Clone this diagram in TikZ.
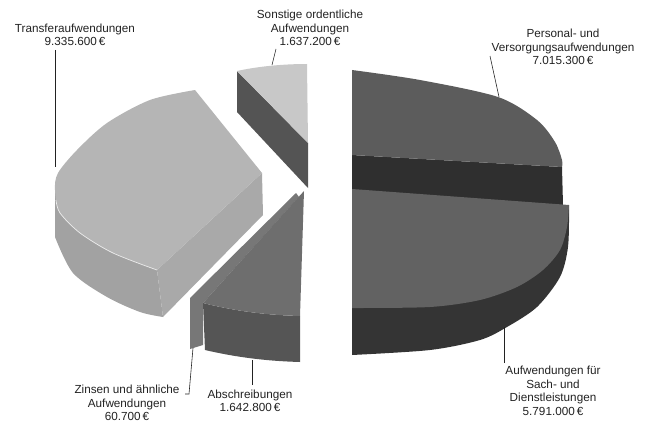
\documentclass[tikz,border=0pt]{standalone}
\usepackage{fontspec}
\setmainfont{Liberation Sans}
\definecolor{transTop}{HTML}{B5B5B5}
\definecolor{transSide}{HTML}{A2A2A2}
\definecolor{transCut}{HTML}{A9A9A9}
\definecolor{sonTop}{HTML}{C8C8C8}
\definecolor{sonCut}{HTML}{545454}
\definecolor{persTop}{HTML}{5C5C5C}
\definecolor{persCut}{HTML}{2F2F2F}
\definecolor{sachTop}{HTML}{626262}
\definecolor{sachSide}{HTML}{343434}
\definecolor{abTop}{HTML}{6E6E6E}
\definecolor{abSide}{HTML}{555555}
\definecolor{zinsCol}{HTML}{777777}
\definecolor{inkGray}{HTML}{222222}
\begin{document}
\begin{tikzpicture}[x=0.03cm,y=-0.03cm,
  lbl/.style={align=center,inner sep=0pt,text=inkGray,font=\fontsize{10}{11.6}\selectfont},
  leader/.style={draw=inkGray,line width=0.5pt}]
\useasboundingbox (0,0) rectangle (647,424);
\fill[sonCut] (237,71) -- (308,143) -- (308,188) -- (237,112) -- cycle;
\fill[sonTop] (237,71) .. controls (260,66) and (285,64) .. (307,64) -- (308,143) -- cycle;
\fill[transSide] (55,185) -- plot[smooth] coordinates {(55,237) (73,273) (107,297) (140,312) (163,317)} -- (157,270) -- cycle;
\fill[transCut] (262,173) -- (157,270) -- (163,317) -- (263,215) -- cycle;
\fill[transTop] plot[smooth] coordinates {(195,90) (150,100) (107,123) (77,150) (58,173) (55,190) (60,213) (80,233) (113,253) (157,270)} -- (262,173) -- cycle;
\draw[white!85!gray,line width=0.6pt] plot[smooth] coordinates {(56,200) (60,213) (80,233) (113,253) (157,270)};
\fill[persCut] (352,155) -- (562,167) -- (563,205) -- (352,190) -- cycle;
\fill[persTop] plot[smooth] coordinates {(352,70) (420,80) (498,97) (537,120) (555,142) (562,160) (562,167)} -- (352,155) -- cycle;
\fill[sachSide] (352,300) -- plot[smooth] coordinates {(352,355) (430,350) (480,340) (507,327) (537,307) (560,277) (568,247) (569,210)} -- (569,205) -- cycle;
\fill[sachTop] (352,189) -- plot[smooth] coordinates {(569,205) (567,227) (560,250) (543,270) (517,287) (480,300) (430,307) (352,308)} -- cycle;
\fill[zinsCol] (190,298) -- (296,193) -- (299,197) -- (203,303) -- (203,345) -- (190,349) -- cycle;
\fill[abSide] (203,303) .. controls (235,311) and (265,315) .. (300,316) -- (300,362) .. controls (265,361) and (235,357) .. (205,350) -- cycle;
\fill[abTop] (304,191) -- (300,316) .. controls (265,315) and (235,311) .. (203,303) -- cycle;
\node[lbl] (transfer) at (75,35) {Transferaufwendungen\\9.335.600\,€};
\node[lbl] (sonstige) at (310,28) {Sonstige ordentliche\\Aufwendungen\\1.637.200\,€};
\node[lbl] (personal) at (563,47) {Personal- und\\Versorgungsaufwendungen\\7.015.300\,€};
\node[lbl] (sach) at (553,391) {Aufwendungen für\\Sach- und\\Dienstleistungen\\5.791.000\,€};
\node[lbl] (abschr) at (250,401) {Abschreibungen\\1.642.800\,€};
\node[lbl] (zinsen) at (127,403) {Zinsen und ähnliche\\Aufwendungen\\60.700\,€};
\coordinate (transferA) at (55,50);
\coordinate (transferB) at (55,167);
\coordinate (sonstigeA) at (276,49);
\coordinate (sonstigeB) at (272,65);
\coordinate (personalA) at (490,56);
\coordinate (personalB) at (499,97);
\coordinate (sachA) at (504,363);
\coordinate (sachB) at (504,327);
\coordinate (abschrA) at (252,385);
\coordinate (abschrB) at (252,360);
\coordinate (zinsenA) at (185,394);
\coordinate (zinsenK) at (189,394);
\coordinate (zinsenB) at (193,348);
\draw[leader] (transferA) -- (transferB);
\draw[leader] (sonstigeA) -- (sonstigeB);
\draw[leader] (personalA) -- (personalB);
\draw[leader] (sachA) -- (sachB);
\draw[leader] (abschrA) -- (abschrB);
\draw[leader] (zinsenA) -- (zinsenK) -- (zinsenB);
\end{tikzpicture}
\end{document}
